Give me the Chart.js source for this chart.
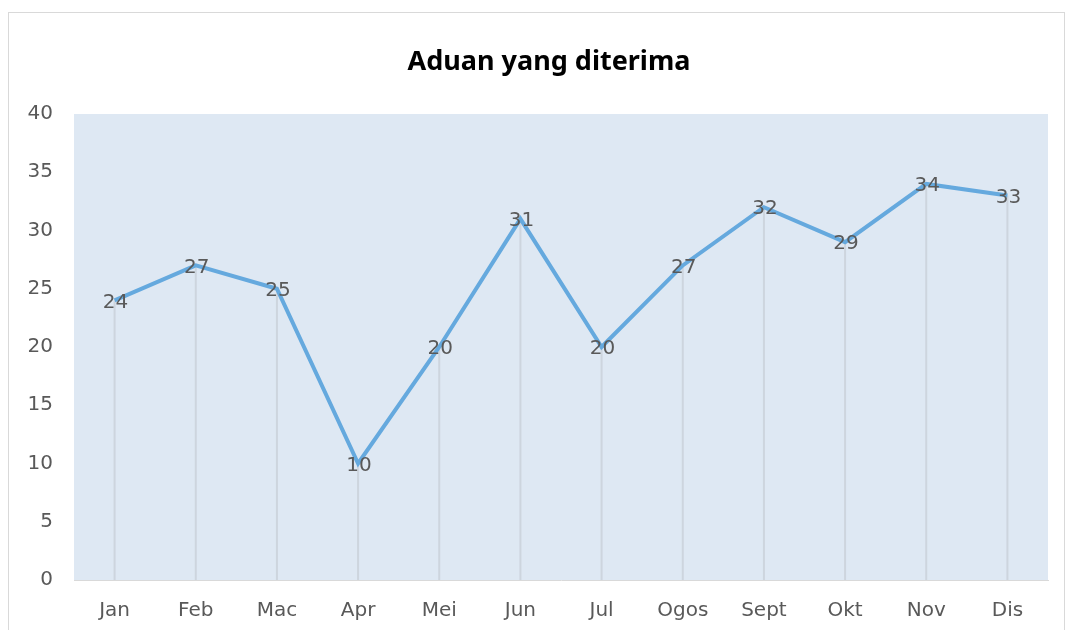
<!DOCTYPE html>
<html lang="ms">
<head>
    <meta charset="UTF-8">
    <title>Aduan yang diterima</title>
    <style>
        body {
            margin: 0;
            background-color: #fff;
        }
        .frame {
            position: absolute;
            left: 8px;
            top: 12px;
            width: 1057px;
            height: 640px;
            border: 1px solid #d9d9d9;
            box-sizing: border-box;
        }
        #chart {
            position: absolute;
            left: 0;
            top: 0;
        }
    </style>
</head>
<body>
    <div class="frame"></div>
    <canvas id="chart" width="1067" height="630"></canvas>

    <script src="https://cdn.jsdelivr.net/npm/chart.js"></script>
    <script>
var months = ["Jan", "Feb", "Mac", "Apr", "Mei", "Jun", "Jul", "Ogos", "Sept", "Okt", "Nov", "Dis"];
var complaints = [24, 27, 25, 10, 20, 31, 20, 27, 32, 29, 34, 33];
var yTicks = [0, 5, 10, 15, 20, 25, 30, 35, 40];
var chartTitle = "Aduan yang diterima";

var textColor = "#595959";

// plot area fill
var plotBackground = {
    id: "plotBackground",
    beforeDraw: function (chart) {
        var a = chart.chartArea;
        var ctx = chart.ctx;
        ctx.save();
        ctx.fillStyle = "#dee8f3";
        ctx.fillRect(a.left, a.top, a.right - a.left, a.bottom - a.top);
        ctx.restore();
    }
};

// title sits a bit right of the canvas centre, like the original
var titleText = {
    id: "titleText",
    afterDraw: function (chart) {
        var ctx = chart.ctx;
        ctx.save();
        ctx.font = "bold 27px 'Noto Sans'";
        ctx.fillStyle = "#000";
        ctx.textAlign = "center";
        ctx.textBaseline = "middle";
        ctx.fillText(chartTitle, (chart.chartArea.left + chart.chartArea.right) / 2 - 12, 62);
        ctx.restore();
    }
};

// vertical drop lines from every point to the axis
var dropLines = {
    id: "dropLines",
    beforeDatasetsDraw: function (chart) {
        var meta = chart.getDatasetMeta(0);
        var ctx = chart.ctx;
        ctx.save();
        ctx.strokeStyle = "#cdd5de";
        ctx.lineWidth = 2;
        meta.data.forEach(function (pt) {
            ctx.beginPath();
            ctx.moveTo(pt.x, pt.y);
            ctx.lineTo(pt.x, chart.chartArea.bottom);
            ctx.stroke();
        });
        ctx.restore();
    }
};

// value labels centred on the points
var valueLabels = {
    id: "valueLabels",
    afterDatasetsDraw: function (chart) {
        var meta = chart.getDatasetMeta(0);
        var values = chart.data.datasets[0].data;
        var ctx = chart.ctx;
        ctx.save();
        ctx.font = "20px 'DejaVu Sans'";
        ctx.fillStyle = textColor;
        ctx.textAlign = "center";
        ctx.textBaseline = "middle";
        meta.data.forEach(function (pt, i) {
            ctx.fillText(values[i], pt.x + 1, pt.y + 2);
        });
        ctx.restore();
    }
};

new Chart(document.getElementById("chart"), {
    type: "line",
    data: {
        labels: months,
        datasets: [{
            label: "Aduan",
            data: complaints,
            borderColor: "#65a9de",
            borderWidth: 4,
            pointRadius: 0,
            tension: 0
        }]
    },
    options: {
        responsive: false,
        animation: false,
        layout: {
            padding: { left: 0, right: 19, top: 114, bottom: 0 }
        },
        plugins: {
            legend: { display: false },
            tooltip: { enabled: false },
            title: { display: false }
        },
        scales: {
            x: {
                offset: true,
                grid: { display: false, drawTicks: false },
                border: { display: true, color: "#d9d9d9", width: 1 },
                ticks: {
                    color: textColor,
                    font: { family: "'DejaVu Sans'", size: 20 },
                    padding: 19,
                    maxRotation: 0
                },
                afterFit: function (scale) { scale.height = 50; }
            },
            y: {
                min: 0,
                max: 40,
                afterBuildTicks: function (scale) {
                    scale.ticks = yTicks.map(function (v) { return { value: v }; });
                },
                grid: { display: false, drawTicks: false },
                border: { display: false },
                ticks: {
                    color: textColor,
                    font: { family: "'DejaVu Sans'", size: 20 },
                    padding: 21
                },
                afterFit: function (scale) { scale.width = 74; }
            }
        }
    },
    plugins: [plotBackground, dropLines, valueLabels, titleText]
});
    </script>
</body>
</html>
